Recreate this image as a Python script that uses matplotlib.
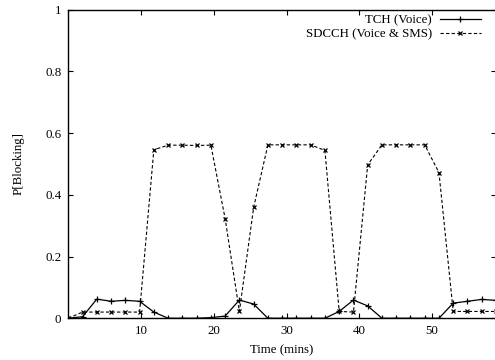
import matplotlib

matplotlib.use("Agg")
import matplotlib.pyplot as plt

plt.rcParams["font.family"] = ["Liberation Serif", "DejaVu Serif"]

# sample times (mins), one sample roughly every 1.96 min
time_mins = [0.0, 1.96, 3.92, 5.88, 7.84, 9.8, 11.76, 13.72, 15.68, 17.64,
             19.6, 21.56, 23.52, 25.48, 27.44, 29.4, 31.36, 33.32, 35.28, 37.24,
             39.2, 41.16, 43.12, 45.08, 47.04, 49.0, 50.96, 52.92, 54.88, 56.84,
             58.8]

tch = [0.0, 0.005, 0.062, 0.055, 0.058, 0.055, 0.02, 0.0, 0.0, 0.0,
       0.002, 0.007, 0.059, 0.046, 0.0, 0.0, 0.0, 0.0, 0.0, 0.022,
       0.059, 0.04, 0.0, 0.0, 0.0, 0.0, 0.0, 0.049, 0.055, 0.061,
       0.058]

sdcch = [0.0, 0.02, 0.02, 0.02, 0.02, 0.02, 0.546, 0.561, 0.561, 0.56,
         0.561, 0.323, 0.022, 0.359, 0.562, 0.562, 0.562, 0.562, 0.544, 0.022,
         0.02, 0.497, 0.562, 0.562, 0.562, 0.562, 0.472, 0.022, 0.022, 0.022,
         0.022]

labels = ["TCH (Voice)", "SDCCH (Voice & SMS)"]
x_ticks = [10, 20, 30, 40, 50]
y_ticks = [0, 0.2, 0.4, 0.6, 0.8, 1]
y_tick_labels = ["0", "0.2", "0.4", "0.6", "0.8", "1"]

fig = plt.figure(figsize=(4.95, 3.6), dpi=100)
ax = fig.add_axes([0.138, 0.116, 0.864, 0.857])

ax.plot(time_mins, tch, color="black", linewidth=0.9, marker="+",
        markersize=4, markeredgewidth=0.9, label=labels[0])
ax.plot(time_mins, sdcch, color="black", linewidth=0.8, linestyle=(0, (3, 2)),
        marker="x", markersize=3.2, markeredgewidth=0.9, label=labels[1])

ax.set_xlim(0, time_mins[-1])
ax.set_ylim(0, 1)
ax.set_xticks(x_ticks)
ax.set_yticks(y_ticks)
ax.set_yticklabels(y_tick_labels)
ax.tick_params(direction="in", top=True, right=True, length=3.5, width=0.8,
               labelsize=9.3, pad=5)
for spine in ax.spines.values():
    spine.set_linewidth(1.0)

ax.set_xlabel("Time (mins)", fontsize=9.3, labelpad=5)
ax.set_ylabel("P[Blocking]", fontsize=9.3, labelpad=15)

ax.legend(loc="upper right", frameon=False, markerfirst=False, fontsize=9.3,
          handlelength=3.2, labelspacing=0.15, borderaxespad=0, borderpad=0,
          handletextpad=0.6, bbox_to_anchor=(0.965, 0.985))

fig.savefig("out.png", dpi=100)
